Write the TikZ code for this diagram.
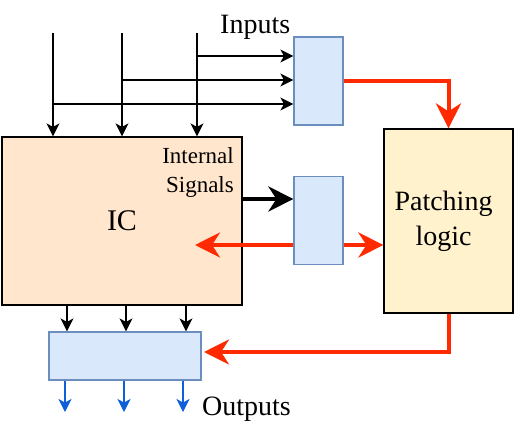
\documentclass[tikz,border=0pt]{standalone}
\usepackage{fontspec}
\setmainfont{Liberation Serif}
\usetikzlibrary{arrows.meta}

\definecolor{icfill}{HTML}{FFE6CC}
\definecolor{muxfill}{HTML}{DAE8FC}
\definecolor{muxline}{HTML}{6C8EBF}
\definecolor{patchfill}{HTML}{FFF2CC}
\definecolor{patchred}{HTML}{FF2A00}
\definecolor{outblue}{HTML}{0F5FD8}

\tikzset{
  mux/.style={draw=muxline,fill=muxfill,line width=1.2pt,minimum width=49pt,minimum height=88pt,inner sep=0pt},
  sig/.style={line width=1.3pt,-{Stealth[length=13pt,width=13pt,inset=3.5pt]}},
  bus/.style={line width=4pt,-{Stealth[length=25pt,width=25pt,inset=8pt]}},
  patchline/.style={patchred,line width=4pt,-{Stealth[length=25pt,width=25pt,inset=8pt]}},
  outsig/.style={outblue,line width=1.5pt,-{Stealth[length=13pt,width=13pt,inset=3.5pt]}},
  bigtext/.style={font=\fontsize{28}{35}\selectfont},
}

\begin{document}
\begin{tikzpicture}[x=1pt,y=-1pt]
    \useasboundingbox (0,0) rectangle (515,437);

    % 绘制方框
    \node[draw,fill=icfill,line width=1.2pt,minimum width=240pt,minimum height=168pt,inner sep=0pt,
      font=\fontsize{30}{35}\selectfont] (ic) at (122,221) {IC};
    \node[mux] (inmux) at (318.5,81) {};
    \node[mux] (midmux) at (318.5,220.5) {};
    \node[draw,fill=patchfill,line width=1.2pt,minimum width=129pt,minimum height=184pt,
      align=center,bigtext] (patch) at (448.5,221) {\hspace*{-10pt}Patching\\\hspace*{-10pt}logic};
    \node[mux,minimum width=152pt,minimum height=48pt] (outmux) at (125,356) {};

    % 文字
    \node[anchor=base west,inner sep=0pt,bigtext] (inlabel) at (220,33) {Inputs};
    \node[anchor=base west,inner sep=0pt,bigtext] (outlabel) at (202,415) {Outputs};
    \node[anchor=north east,align=right,inner sep=0pt,font=\fontsize{23}{29}\selectfont]
      (intlabel) at (234,147) {Internal\\Signals};

    % 输入
    \coordinate (in1) at (53,33);
    \coordinate (in2) at (122,33);
    \coordinate (in3) at (197,33);
    \foreach \c in {in1,in2,in3}
      \draw[sig] (\c) -- (\c |- ic.north);
    \coordinate (t3) at (197,56);
    \coordinate (t2) at (122,80);
    \coordinate (t1) at (53,104);
    \foreach \c in {t1,t2,t3}
      \draw[sig] (\c) -- (inmux.west |- \c);

    % 内部信号
    \draw[bus] ([yshift=21.5pt]midmux.west -| ic.east) -- ([yshift=21.5pt]midmux.west);
    \coordinate (icpatch) at (195,245);
    \draw[patchline] (midmux.west |- icpatch) -- (icpatch);
    \draw[patchline] (midmux.east |- icpatch) -- (patch.west |- icpatch);

    % 修补逻辑
    \draw[patchline] (inmux.east) -| (patch.north);
    \coordinate (outin) at (204,352);
    \draw[patchline] (patch.south) |- (outin);

    % 输出
    \foreach \x in {67,126,186}
      \draw[sig] (ic.south -| \x,0) -- (outmux.north -| \x,0);
    \foreach \x in {65,124,183}
      \draw[outsig] (outmux.south -| \x,0) -- (\x,412);
\end{tikzpicture}
\end{document}
